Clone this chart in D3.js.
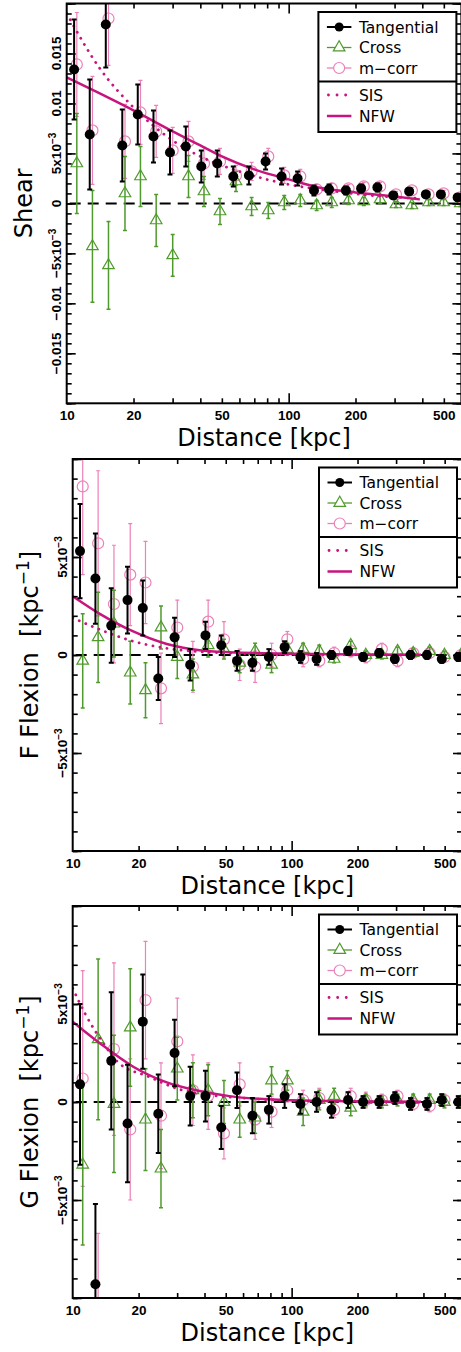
<!DOCTYPE html>
<html>
<head>
<meta charset="utf-8">
<script src="https://cdn.jsdelivr.net/npm/d3@7"></script>
<style>
  body { margin: 0; background: #fff; }
  svg { display: block; }
</style>
</head>
<body>
<script>
// radial bins (kpc), same for the three panels
let distance = [10.8, 12.7, 15.0, 17.8, 20.9, 24.6, 29.2, 34.4, 40.4, 47.7, 56.3, 66.2, 78.7,
  92.9, 109.7, 130, 152, 181, 212, 251, 296, 349, 415, 485, 577];

// shear
let shearTan = [0.0134, 0.0069, 0.0179, 0.0058, 0.0089, 0.0067, 0.0051, 0.0057, 0.0037, 0.0040, 0.0027, 0.0028, 0.0042,
  0.0027, 0.0025, 0.0013, 0.0014, 0.0013, 0.0015, 0.0016, 0.0008, 0.0012, 0.0009, 0.0009, 0.0006];
let shearTanErr = [0.0050, 0.0055, 0.0043, 0.0036, 0.0030, 0.0026, 0.0022, 0.0020, 0.0016, 0.0013, 0.0010, 0.0009, 0.0008,
  0.0008, 0.0007, 0.0005, 0.0005, 0.0004, 0.0004, 0.0004, 0.0003, 0.0003, 0.0003, 0.0003, 0.0003];
let shearCross = [0.0040, -0.0043, -0.0062, 0.0010, 0.0027, -0.0017, -0.0052, 0.0027, 0.0012, -0.0008, 0.0022, -0.0003, -0.0007,
  0.0001, 0.0003, -0.0002, 0.0001, 0.0003, 0.0002, 0.0004, -0.0001, -0.0002, 0.0001, 0.0001, 0.0000];
let shearCrossErr = [0.0050, 0.0056, 0.0044, 0.0037, 0.0030, 0.0026, 0.0021, 0.0021, 0.0015, 0.0013, 0.0010, 0.0009, 0.0008,
  0.0007, 0.0006, 0.0005, 0.0005, 0.0004, 0.0004, 0.0004, 0.0003, 0.0003, 0.0003, 0.0003, 0.0003];
let shearCorr = [0.0139, 0.0073, 0.0185, 0.0062, 0.0091, 0.0072, 0.0053, 0.0062, 0.0040, 0.0042, 0.0028, 0.0032, 0.0047,
  0.0028, 0.0027, 0.0014, 0.0015, 0.0015, 0.0017, 0.0017, 0.0009, 0.0013, 0.0009, 0.0010, 0.0006];
let shearCorrErr = [0.0052, 0.0054, 0.0047, 0.0037, 0.0032, 0.0026, 0.0023, 0.0020, 0.0016, 0.0013, 0.0010, 0.0009, 0.0008,
  0.0008, 0.0007, 0.0005, 0.0005, 0.0004, 0.0004, 0.0004, 0.0003, 0.0003, 0.0003, 0.0003, 0.0003];

// F flexion
let fTan = [0.0053, 0.0039, 0.0015, 0.0028, 0.0024, -0.0012, 0.0009, -0.0005, 0.0010, 0.0005, -0.0003, -0.0004, -0.0001,
  0.0004, -0.0001, -0.0002, 0.0000, 0.0002, -0.0001, 0.0001, -0.0002, 0.0000, 0.0000, -0.0002, -0.0001];
let fTanErr = [0.0024, 0.0023, 0.0019, 0.0017, 0.0014, 0.0011, 0.0010, 0.0008, 0.0007, 0.0005, 0.0005, 0.0004, 0.0004,
  0.0003, 0.0003, 0.0003, 0.0002, 0.0002, 0.0002, 0.0002, 0.0002, 0.0002, 0.0002, 0.0002, 0.0002];
let fCross = [-0.0003, 0.0009, 0.0016, -0.0009, -0.0018, 0.0014, -0.0001, -0.0010, 0.0005, 0.0003, -0.0004, 0.0002, -0.0005,
  0.0003, 0.0003, 0.0002, -0.0002, 0.0005, 0.0000, 0.0000, 0.0002, 0.0001, 0.0002, 0.0000, 0.0000];
let fCrossErr = [0.0024, 0.0023, 0.0017, 0.0016, 0.0014, 0.0011, 0.0011, 0.0008, 0.0006, 0.0005, 0.0005, 0.0004, 0.0004,
  0.0003, 0.0003, 0.0003, 0.0002, 0.0002, 0.0002, 0.0002, 0.0002, 0.0002, 0.0002, 0.0002, 0.0002];
let fCorr = [0.0086, 0.0057, 0.0026, 0.0041, 0.0037, -0.0017, 0.0014, -0.0006, 0.0017, 0.0008, -0.0005, -0.0006, 0.0000,
  0.0008, -0.0002, -0.0003, 0.0001, 0.0002, -0.0001, 0.0003, -0.0003, 0.0001, 0.0001, -0.0001, 0.0000];
let fCorrErr = [0.0045, 0.0037, 0.0030, 0.0026, 0.0021, 0.0018, 0.0014, 0.0013, 0.0011, 0.0009, 0.0008, 0.0008, 0.0006,
  0.0004, 0.0004, 0.0003, 0.0003, 0.0003, 0.0003, 0.0003, 0.0003, 0.0002, 0.0002, 0.0002, 0.0002];

// G flexion
let gTan = [0.0009, -0.0093, 0.0021, -0.0011, 0.0041, -0.0006, 0.0025, 0.0003, 0.0003, -0.0013, 0.0006, -0.0007, -0.0004,
  0.0003, -0.0001, 0.0000, -0.0004, 0.0001, 0.0000, 0.0000, 0.0002, -0.0001, -0.0001, 0.0001, 0.0000];
let gTanErr = [0.0041, 0.0041, 0.0035, 0.0030, 0.0024, 0.0020, 0.0017, 0.0015, 0.0013, 0.0011, 0.0009, 0.0009, 0.0007,
  0.0006, 0.0005, 0.0005, 0.0004, 0.0004, 0.0003, 0.0003, 0.0003, 0.0003, 0.0003, 0.0003, 0.0003];
let gCross = [-0.0032, 0.0032, -0.0001, 0.0038, -0.0009, -0.0034, 0.0017, 0.0006, 0.0006, 0.0000, -0.0009, -0.0008, 0.0011,
  0.0011, -0.0005, 0.0001, 0.0003, -0.0003, 0.0001, 0.0000, 0.0001, 0.0001, 0.0001, 0.0000, 0.0000];
let gCrossErr = [0.0041, 0.0041, 0.0035, 0.0030, 0.0026, 0.0020, 0.0016, 0.0014, 0.0013, 0.0011, 0.0009, 0.0008, 0.0007,
  0.0005, 0.0007, 0.0005, 0.0004, 0.0004, 0.0003, 0.0003, 0.0003, 0.0003, 0.0003, 0.0003, 0.0003];
let gCorr = [0.0012, -0.0105, 0.0027, -0.0014, 0.0052, -0.0007, 0.0031, 0.0006, 0.0003, -0.0016, 0.0009, -0.0009, -0.0005,
  0.0006, 0.0001, 0.0002, -0.0004, 0.0003, 0.0001, 0.0001, 0.0003, -0.0001, -0.0002, 0.0001, 0.0000];
let gCorrErr = [0.0055, 0.0038, 0.0044, 0.0036, 0.0030, 0.0027, 0.0022, 0.0018, 0.0017, 0.0013, 0.0011, 0.0010, 0.0008,
  0.0006, 0.0005, 0.0005, 0.0004, 0.0004, 0.0004, 0.0003, 0.0003, 0.0003, 0.0003, 0.0003, 0.0003];

// model curves
let nfwShearR = [10, 15, 20, 30, 40, 50, 77, 100, 130, 200, 300, 390];
let nfwShear = [0.0126, 0.0107, 0.0093, 0.0072, 0.0058, 0.0047, 0.0031, 0.0024, 0.0017, 0.0011, 0.0007, 0.0004];
let sisShearR = [10, 14, 20, 30, 40, 60, 100, 150, 200, 300, 390];
let sisShear = [0.0190, 0.0136, 0.0096, 0.0063, 0.0047, 0.0032, 0.0019, 0.0013, 0.00095, 0.00063, 0.0005];
let nfwFR = [10, 13.3, 18.9, 26.9, 38, 52, 100, 200, 390];
let nfwF = [0.0030, 0.0021, 0.0012, 0.00056, 0.00024, 0.00014, 0.00007, 0.00003, 0.00001];
let sisFR = [10, 13.3, 18.9, 26.9, 38, 52, 100, 200, 390];
let sisF = [0.0019, 0.0013, 0.0007, 0.00034, 0.00017, 0.0001, 0.00003, 0.00001, 0.0];
let nfwGR = [10, 13.3, 18.9, 26.9, 38, 52, 92, 215, 390];
let nfwG = [0.0041, 0.0030, 0.0018, 0.0010, 0.00056, 0.0003, 0.0001, 0.00003, 0.00001];
let sisGR = [10, 11.4, 13.8, 16.2, 22.2, 31.1, 38, 60, 100, 200, 390];
let sisG = [0.0058, 0.0045, 0.0030, 0.0020, 0.0013, 0.00063, 0.00043, 0.0002, 0.00007, 0.00002, 0.0];

// tick labels
let xTickLabels = [10, 20, 50, 100, 200, 500];
let xMinorTicks = [20, 30, 40, 50, 60, 70, 80, 90, 200, 300, 400, 500];
let shearTickLabels = [0.015, 0.01, 0.005, 0, -0.005, -0.01, -0.015];
let flexionTickLabels = [0.005, 0, -0.005];
let legendLabels = ["Tangential", "Cross", "m\u2212corr", "SIS", "NFW"];

let w = 461;
let h = 1352;
let cTan = "#000000", cCross = "#4f9a2c", cCorr = "#ec80b8", cModel = "#c8157e";
let sisDash = "0.1,7";

let svg = d3.select("body").append("svg").attr("width", w).attr("height", h);

let panels = [
  { top: 3.5, bottom: 403.3, left: 66.7, right: 461.4, ymax: 0.02, ticks: shearTickLabels,
    title: [["Shear"]],
    tan: [shearTan, shearTanErr], cross: [shearCross, shearCrossErr], corr: [shearCorr, shearCorrErr],
    nfw: [nfwShearR, nfwShear], sis: [sisShearR, sisShear] },
  { top: 459, bottom: 851, left: 72.7, right: 462, ymax: 0.01, ticks: flexionTickLabels,
    title: [["F Flexion  [kpc"], ["\u22121", true], ["]"]],
    tan: [fTan, fTanErr], cross: [fCross, fCrossErr], corr: [fCorr, fCorrErr],
    nfw: [nfwFR, nfwF], sis: [sisFR, sisF] },
  { top: 906, bottom: 1298, left: 72.7, right: 462, ymax: 0.01, ticks: flexionTickLabels,
    title: [["G Flexion  [kpc"], ["\u22121", true], ["]"]],
    tan: [gTan, gTanErr], cross: [gCross, gCrossErr], corr: [gCorr, gCorrErr],
    nfw: [nfwGR, nfwG], sis: [sisGR, sisG] }
];

// rotated y tick label, 5x10^-3 style for the 0.005 ticks
function tickLabel(sel, v) {
  let a = Math.abs(v);
  let sign = v < 0 ? "\u2212" : "";
  if (a === 0.005) {
    sel.append("tspan").text(sign + "5x10");
    sel.append("tspan").attr("dy", -5).attr("font-size", 10).text("\u22123");
  } else {
    sel.text(v === 0 ? "0" : sign + String(a));
  }
}

function drawSeries(plot, x, y, vals, errs, color, lw, cap, dx, marker) {
  let g = plot.append("g");
  let px = (d, i) => x(distance[i]) + dx;
  g.selectAll(".bar").data(vals).join("line")
    .attr("x1", px).attr("x2", px)
    .attr("y1", (d, i) => y(d - errs[i])).attr("y2", (d, i) => y(d + errs[i]))
    .attr("stroke", color).attr("stroke-width", lw);
  [1, -1].forEach(s => {
    g.selectAll(".cap" + s).data(vals).join("line")
      .attr("x1", (d, i) => px(d, i) - cap).attr("x2", (d, i) => px(d, i) + cap)
      .attr("y1", (d, i) => y(d + s * errs[i])).attr("y2", (d, i) => y(d + s * errs[i]))
      .attr("stroke", color).attr("stroke-width", lw);
  });
  if (marker === "dot") {
    g.selectAll("circle").data(vals).join("circle")
      .attr("cx", px).attr("cy", d => y(d)).attr("r", 5).attr("fill", color);
  } else if (marker === "ring") {
    g.selectAll("circle").data(vals).join("circle")
      .attr("cx", px).attr("cy", d => y(d)).attr("r", 5.5)
      .attr("fill", "none").attr("stroke", color).attr("stroke-width", 1.2);
  } else {
    g.selectAll("path").data(vals).join("path")
      .attr("d", d3.symbol(d3.symbolTriangle, 58))
      .attr("transform", (d, i) => `translate(${px(d, i)},${y(d)})`)
      .attr("fill", "none").attr("stroke", color).attr("stroke-width", 1.2);
  }
}

function drawLegend(p) {
  let lx = p.right - 143, ly = p.top + 8.5, lw = 138, lh = 120;
  let g = svg.append("g");
  g.append("rect").attr("x", lx).attr("y", ly).attr("width", lw).attr("height", lh)
    .attr("fill", "#fff").attr("stroke", "#000").attr("stroke-width", 2);
  g.append("line").attr("x1", lx).attr("x2", lx + lw).attr("y1", ly + 69.5).attr("y2", ly + 69.5)
    .attr("stroke", "#000").attr("stroke-width", 2);
  let rows = [15, 35.5, 56, 83, 104];
  let x1 = lx + 8.5, x2 = lx + 33, xm = (x1 + x2) / 2;
  let styles = [
    { c: cTan, w: 2 }, { c: cCross, w: 1.3 }, { c: cCorr, w: 1.3 },
    { c: cModel, w: 2.8, dash: "0.1,8.5", cap: "round" }, { c: cModel, w: 2.5 }
  ];
  legendLabels.forEach((t, i) => {
    let yy = ly + rows[i];
    let s = styles[i];
    g.append("line").attr("x1", i === 3 ? x1 + 1.5 : x1).attr("x2", x2).attr("y1", yy).attr("y2", yy)
      .attr("stroke", s.c).attr("stroke-width", s.w).attr("stroke-dasharray", s.dash || null)
      .attr("stroke-linecap", s.cap || null);
    if (i === 0) g.append("circle").attr("cx", xm).attr("cy", yy).attr("r", 4.5).attr("fill", cTan);
    if (i === 1) g.append("path").attr("d", d3.symbol(d3.symbolTriangle, 58))
      .attr("transform", `translate(${xm},${yy})`).attr("fill", "#fff").attr("stroke", cCross).attr("stroke-width", 1.2);
    if (i === 2) g.append("circle").attr("cx", xm).attr("cy", yy).attr("r", 5.5)
      .attr("fill", "#fff").attr("stroke", cCorr).attr("stroke-width", 1.2);
    g.append("text").attr("x", lx + 40.5).attr("y", yy + 5.5)
      .attr("font-family", "DejaVu Sans").attr("font-size", 15.5).text(t);
  });
}

panels.forEach((p, idx) => {
  let x = d3.scaleLog().domain([10, 600]).range([p.left, p.right]);
  let y = d3.scaleLinear().domain([-p.ymax, p.ymax]).range([p.bottom, p.top]);

  svg.append("clipPath").attr("id", "clip" + idx).append("rect")
    .attr("x", p.left).attr("y", p.top).attr("width", p.right - p.left).attr("height", p.bottom - p.top);
  let plot = svg.append("g").attr("clip-path", `url(#clip${idx})`);

  // zero line
  plot.append("line").attr("x1", p.left + 3).attr("x2", p.right).attr("y1", y(0)).attr("y2", y(0))
    .attr("stroke", "#000").attr("stroke-width", 2).attr("stroke-dasharray", "11,7");

  drawSeries(plot, x, y, p.corr[0], p.corr[1], cCorr, 1.2, 2, 2.7, "ring");
  drawSeries(plot, x, y, p.cross[0], p.cross[1], cCross, 1.5, 2, 2.7, "tri");

  // models
  let line = d3.line().x(d => x(d[0])).y(d => y(d[1])).curve(d3.curveMonotoneX);
  plot.append("path").datum(d3.zip(p.sis[0], p.sis[1])).attr("d", line)
    .attr("fill", "none").attr("stroke", cModel).attr("stroke-width", 2.8)
    .attr("stroke-dasharray", sisDash).attr("stroke-linecap", "round");
  plot.append("path").datum(d3.zip(p.nfw[0], p.nfw[1])).attr("d", line)
    .attr("fill", "none").attr("stroke", cModel).attr("stroke-width", 2.5);

  drawSeries(plot, x, y, p.tan[0], p.tan[1], cTan, 2, 2.5, 0, "dot");

  // ticks, pointing inwards
  let ax = svg.append("g");
  let yMinor = d3.range(-p.ymax * 1000, p.ymax * 1000 + 1).map(k => k / 1000);
  let yMajor = yMinor.filter(v => Math.abs(Math.round(v * 1000)) % 5 === 0);
  ax.append("g").attr("transform", `translate(${p.left},0)`)
    .call(d3.axisLeft(y).tickValues(yMinor).tickSize(-5).tickFormat(""));
  ax.append("g").attr("transform", `translate(${p.left},0)`)
    .call(d3.axisLeft(y).tickValues(yMajor).tickSize(-9).tickFormat(""));
  ax.append("g").attr("transform", `translate(${p.right},0)`)
    .call(d3.axisRight(y).tickValues(yMinor).tickSize(-5).tickFormat(""));
  ax.append("g").attr("transform", `translate(${p.right},0)`)
    .call(d3.axisRight(y).tickValues(yMajor).tickSize(-9).tickFormat(""));
  ax.append("g").attr("transform", `translate(0,${p.bottom})`)
    .call(d3.axisBottom(x).tickValues(xMinorTicks).tickSize(-5).tickFormat(""));
  ax.append("g").attr("transform", `translate(0,${p.bottom})`)
    .call(d3.axisBottom(x).tickValues([100]).tickSize(-10).tickFormat(""));
  ax.append("g").attr("transform", `translate(0,${p.top})`)
    .call(d3.axisTop(x).tickValues(xMinorTicks).tickSize(-5).tickFormat(""));
  ax.append("g").attr("transform", `translate(0,${p.top})`)
    .call(d3.axisTop(x).tickValues([100]).tickSize(-10).tickFormat(""));
  ax.selectAll(".domain").remove();
  ax.selectAll(".tick line").attr("stroke", "#000").attr("stroke-width", 1.6);

  // x tick labels
  let xl = svg.append("g").attr("transform", `translate(0,${p.bottom})`)
    .call(d3.axisBottom(x).tickValues(xTickLabels).tickSize(0).tickPadding(7.5).tickFormat(d3.format("d")));
  xl.select(".domain").remove();
  xl.selectAll("text").attr("font-family", "Liberation Sans").attr("font-weight", "bold")
    .attr("font-size", 13.5).attr("fill", "#000");

  // y tick labels
  p.ticks.forEach(v => {
    let t = svg.append("text").attr("transform", `translate(${p.left - 5.5},${y(v)}) rotate(-90)`)
      .attr("text-anchor", "middle").attr("font-family", "Liberation Sans").attr("font-weight", "bold")
      .attr("font-size", 13.5);
    tickLabel(t, v);
  });

  // frame
  svg.append("rect").attr("x", p.left).attr("y", p.top)
    .attr("width", p.right - p.left).attr("height", p.bottom - p.top)
    .attr("fill", "none").attr("stroke", "#000").attr("stroke-width", 2);

  // titles
  svg.append("text").attr("x", (p.left + p.right) / 2).attr("y", p.bottom + 42.5)
    .attr("text-anchor", "middle").attr("font-family", "DejaVu Sans").attr("font-size", 24)
    .text("Distance [kpc]");
  let yt = svg.append("text")
    .attr("transform", `translate(${p.left - 35},${(p.top + p.bottom) / 2}) rotate(-90)`)
    .attr("text-anchor", "middle").attr("font-family", "DejaVu Sans").attr("font-size", 24)
    .attr("xml:space", "preserve");
  p.title.forEach(part => {
    let s = yt.append("tspan").text(part[0]);
    if (part[1]) s.attr("font-size", 17).attr("dy", -9);
    else if (part[0] === "]") s.attr("dy", 9);
  });

  drawLegend(p);
});
</script>
</body>
</html>
